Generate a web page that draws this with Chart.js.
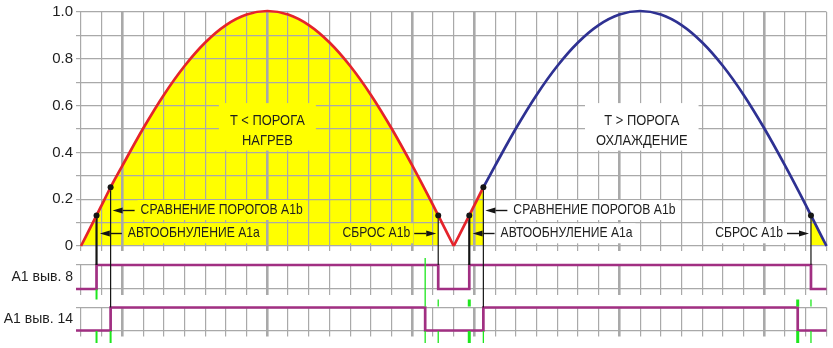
<!DOCTYPE html>
<html lang="ru">
<head>
<meta charset="utf-8">
<title>A1 — сравнение порогов</title>
<script src="https://cdn.jsdelivr.net/npm/chart.js@4.4.1/dist/chart.umd.min.js"></script>
<style>
  html, body { margin: 0; background: #fff; }
  #wrap { position: relative; width: 833px; height: 348px; }
  #wrap canvas { position: absolute; left: 0; top: 0; }
</style>
</head>
<body>
<div id="wrap">
  <canvas id="chartMain" width="833" height="348"></canvas>
  <canvas id="chartPin8" width="833" height="348"></canvas>
  <canvas id="chartPin14" width="833" height="348"></canvas>
  <canvas id="chartTop" width="833" height="348"></canvas>
</div>
<script>
// ============================================================
// Данные. Ось X — в делениях сетки (36 делений), ось Y — доля
// от максимума (0..1)
// ============================================================

// Первая дуга — нагрев (красная)
const heatX = [0, 0.75, 1, 1.43, 2, 3, 4, 5, 6, 7, 8, 9, 10, 11, 12, 13, 14, 15, 16, 17, 17.25, 18];
const heatY = [0, 0.13, 0.174, 0.25, 0.342, 0.5, 0.643, 0.766, 0.866, 0.94, 0.985, 1, 0.985, 0.94, 0.866, 0.766, 0.643, 0.5, 0.342, 0.174, 0.13, 0];
// Начало второй дуги, пока ещё нагрев (красная)
const riseX = [18, 18.75, 19, 19.43];
const riseY = [0, 0.13, 0.174, 0.25];
// Вторая дуга — охлаждение (синяя)
const coolX = [19.43, 20, 21, 22, 23, 24, 25, 26, 27, 28, 29, 30, 31, 32, 33, 34, 35, 35.25, 36];
const coolY = [0.25, 0.342, 0.5, 0.643, 0.766, 0.866, 0.94, 0.985, 1, 0.985, 0.94, 0.866, 0.766, 0.643, 0.5, 0.342, 0.174, 0.13, 0];

// Моменты событий
const autoZeroX = [0.75, 18.75];   // АВТООБНУЛЕНИЕ A1a
const compareX = [1.43, 19.43];    // СРАВНЕНИЕ ПОРОГОВ A1b
const resetX = [17.25, 35.25];     // СБРОС A1b
const pin14FallX = [16.62, 34.61]; // спад на выв. 14

// Логические уровни на выводах (0 — низкий, 1 — высокий)
const pin8X = [-0.24, 0.75, 17.25, 18.75, 35.25, 36];
const pin8Y = [0, 1, 0, 1, 0, 0];
const pin14X = [-0.24, 1.43, 16.62, 19.43, 34.61, 36];
const pin14Y = [0, 1, 0, 1, 0, 0];

// Сетка и подписи оси Y
const yGrid = [0, 0.1, 0.2, 0.3, 0.4, 0.5, 0.6, 0.7, 0.8, 0.9, 1];
const yLabels = ['0', '', '0.2', '', '0.4', '', '0.6', '', '0.8', '', '1.0'];
const pinNames = ['A1 выв. 8', 'A1 выв. 14'];

// ============================================================
// Оформление
// ============================================================
const W = 833, H = 348;
const PLOT_L = 81, PLOT_R = 826.5;
const MAIN = { top: 11, bottom: 246 };
const PIN8 = { top: 265, bottom: 289 };
const PIN14 = { top: 307.5, bottom: 330.5 };
const OVERLAY_BOTTOM = 343;
const FONT = "'Liberation Sans', Arial, sans-serif";
const TEXT = '#1e1e1e', GRID = '#a9a9a9', INK = '#151515';
const RED = '#e5232b', BLUE = '#2e3192', YELLOW = '#ffff00', WHITE = '#ffffff';
const PURPLE = '#a12f82', GREEN = '#1ee61e';
const THICK_X = [2, 9, 16, 19, 26, 33]; // утолщённые линии сетки
const NOTE_SX = 0.81, ZONE_SX = 0.86;   // сжатие шрифта по ширине
const ARROW_LEN = 22, HEAD_LEN = 10, HEAD_HALF = 3;

// Зоны зелёных меток по вертикали (пиксели)
const GREEN_ZONES = {
    under8: [289.5, 299.5],
    gap: [299.5, 306.5],
    across: [258, 306.5],
    under14: [331, 343]
};

// ============================================================
// Вспомогательные функции
// ============================================================
const toPoints = (xs, ys) => xs.map((v, i) => ({ x: v, y: ys[i] }));
const pxToMain = (px) => (MAIN.bottom - px) / (MAIN.bottom - MAIN.top);
const curveX = heatX.concat(riseX, coolX);
const curveY = heatY.concat(riseY, coolY);
const curveAt = (t) => curveY[curveX.indexOf(t)];
const part = (xs, ys, from, to) => toPoints(xs, ys).filter((p) => p.x >= from && p.x <= to);
// Левое поле занимает сама шкала Y (ширина PLOT_L), поэтому left = 0
const padding = (top, bottom) => ({ left: 0, right: W - PLOT_R, top, bottom: H - bottom });

const baseOptions = {
    responsive: false, animation: false, events: [],
    plugins: { legend: { display: false }, tooltip: { enabled: false } }
};

// Вертикальная сетка (общая для всех трёх полей)
function xGridScale(tickLength, z) {
    return {
        type: 'linear', min: 0, max: 36,
        afterBuildTicks: (s) => { s.ticks = Array.from({ length: 37 }, (_, i) => ({ value: i })); },
        afterFit: (s) => { s.height = 0; },
        ticks: { display: false },
        border: { display: false },
        grid: {
            color: GRID, tickLength, z,
            lineWidth: (c) => (c.tick && THICK_X.includes(c.tick.value) ? 2.6 : 1.2)
        }
    };
}

// ------------------------------------------------------------
// Нижний слой: жёлтая заливка + сетка поверх неё + шкала 0..1
// ------------------------------------------------------------
const yellowParts = [
    part(heatX, heatY, 0, resetX[0]),
    part(riseX, riseY, autoZeroX[1], compareX[1]),
    part(coolX, coolY, resetX[1], 36)
];

new Chart(document.getElementById('chartMain'), {
    type: 'line',
    data: {
        datasets: yellowParts.map((pts) => ({
            data: pts, fill: 'origin', backgroundColor: YELLOW, borderWidth: 0,
            pointRadius: 0, cubicInterpolationMode: 'monotone'
        }))
    },
    options: {
        ...baseOptions,
        layout: { padding: padding(MAIN.top, MAIN.bottom) },
        scales: {
            x: xGridScale(5, 1),
            y: {
                min: 0, max: 1,
                afterBuildTicks: (s) => { s.ticks = yGrid.map((v) => ({ value: v })); },
                afterFit: (s) => { s.width = PLOT_L; },
                border: { display: false },
                grid: { color: GRID, lineWidth: 1.2, tickLength: 5, z: 1 },
                ticks: {
                    padding: 3, color: TEXT, autoSkip: false,
                    font: { family: FONT, size: 15 },
                    callback: (v, i) => yLabels[i]
                }
            }
        }
    }
});

// ------------------------------------------------------------
// Поля логических сигналов A1 выв. 8 / выв. 14
// ------------------------------------------------------------
function pinChart(id, box, xs, ys, name) {
    new Chart(document.getElementById(id), {
        type: 'line',
        data: {
            datasets: [{
                data: toPoints(xs, ys), stepped: true, borderColor: PURPLE,
                borderWidth: 2.7, pointRadius: 0, clip: false
            }]
        },
        options: {
            ...baseOptions,
            layout: { padding: padding(box.top, box.bottom) },
            scales: {
                x: xGridScale(6, -1),
                y: {
                    min: 0, max: 1,
                    afterBuildTicks: (s) => { s.ticks = [0, 0.5, 1].map((v) => ({ value: v })); },
                    afterFit: (s) => { s.width = PLOT_L; },
                    border: { display: false },
                    grid: {
                        lineWidth: 1.2, tickLength: 5,
                        color: (c) => (c.tick && c.tick.value === 0.5 ? 'rgba(0,0,0,0)' : GRID)
                    },
                    ticks: {
                        padding: 3, color: TEXT, autoSkip: false,
                        font: { family: FONT, size: 14 },
                        callback: (v) => (v === 0.5 ? name : '')
                    }
                }
            }
        }
    });
}
pinChart('chartPin8', PIN8, pin8X, pin8Y, pinNames[0]);
pinChart('chartPin14', PIN14, pin14X, pin14Y, pinNames[1]);

// ------------------------------------------------------------
// Верхний слой: кривые, точки, выноски, метки и подписи
// ------------------------------------------------------------
const zoneNotes = [
    { lines: ['T < ПОРОГА', 'НАГРЕВ'], x: 9, y: 0.49, bg: YELLOW },
    { lines: ['T > ПОРОГА', 'ОХЛАЖДЕНИЕ'], x: 27.08, y: 0.49, bg: WHITE }
];
const eventNotes = [
    { text: 'СРАВНЕНИЕ ПОРОГОВ A1b', at: compareX[0], y: 0.153, side: 1, bg: YELLOW },
    { text: 'АВТООБНУЛЕНИЕ A1a', at: autoZeroX[0], y: 0.054, side: 1, bg: YELLOW, thick: true },
    { text: 'СБРОС A1b', at: resetX[0], y: 0.054, side: -1, bg: YELLOW },
    { text: 'СРАВНЕНИЕ ПОРОГОВ A1b', at: compareX[1], y: 0.153, side: 1, bg: WHITE },
    { text: 'АВТООБНУЛЕНИЕ A1a', at: autoZeroX[1], y: 0.054, side: 1, bg: WHITE, thick: true },
    { text: 'СБРОС A1b', at: resetX[1], y: 0.054, side: -1, bg: WHITE }
];

// Геометрия выноски: острие у линии, хвост, край текста
function noteGeometry(n, x) {
    const lx = x.getPixelForValue(n.at);
    const tip = lx + n.side * (n.thick ? 3.3 : 2);
    const tail = tip + n.side * ARROW_LEN;
    const edge = tail + n.side * (n.side > 0 ? 6 : 4);
    return { tip, tail, edge };
}

function drawScaledText(ctx, text, x, y, sx) {
    ctx.save();
    ctx.translate(x, y);
    ctx.scale(sx, 1);
    ctx.fillText(text, 0, 0);
    ctx.restore();
}

const notesPlugin = {
    id: 'notes',
    beforeDatasetsDraw(chart) {
        const { ctx, scales: { x, y } } = chart;
        ctx.save();
        ctx.font = `15px ${FONT}`;
        ctx.textBaseline = 'middle';

        // Подписи зон «нагрев / охлаждение»
        zoneNotes.forEach((n) => {
            const cx = x.getPixelForValue(n.x);
            const cy = y.getPixelForValue(n.y);
            const w = Math.max(...n.lines.map((t) => ctx.measureText(t).width)) * ZONE_SX;
            const lineGap = 19.5;
            const first = cy - lineGap * (n.lines.length - 1) / 2;
            const last = cy + lineGap * (n.lines.length - 1) / 2;
            ctx.fillStyle = n.bg;
            ctx.fillRect(cx - w / 2 - 11, first - 18, w + 22, last - first + 28);
            ctx.fillStyle = TEXT;
            ctx.textAlign = 'center';
            n.lines.forEach((t, i) => drawScaledText(ctx, t, cx, first + i * lineGap, ZONE_SX));
        });

        // Подписи событий
        eventNotes.forEach((n) => {
            const g = noteGeometry(n, x);
            const cy = y.getPixelForValue(n.y);
            const w = ctx.measureText(n.text).width * NOTE_SX;
            const left = n.side > 0 ? g.edge : g.edge - w;
            ctx.fillStyle = n.bg;
            ctx.fillRect(left - 3, cy - 10, w + 6, 20);
            ctx.fillStyle = TEXT;
            ctx.textAlign = n.side > 0 ? 'left' : 'right';
            drawScaledText(ctx, n.text, g.edge, cy, NOTE_SX);
        });
        ctx.restore();
    },
    afterDatasetsDraw(chart) {
        const { ctx, scales: { x, y } } = chart;
        ctx.save();
        ctx.strokeStyle = INK;
        ctx.fillStyle = INK;
        ctx.lineWidth = 1.4;
        eventNotes.forEach((n) => {
            const g = noteGeometry(n, x);
            const cy = Math.round(y.getPixelForValue(n.y)) + 0.5;
            const dir = Math.sign(g.tip - g.tail);
            ctx.beginPath();
            ctx.moveTo(g.tail, cy);
            ctx.lineTo(g.tip - dir * HEAD_LEN, cy);
            ctx.stroke();
            ctx.beginPath();
            ctx.moveTo(g.tip, cy);
            ctx.lineTo(g.tip - dir * HEAD_LEN, cy - HEAD_HALF);
            ctx.lineTo(g.tip - dir * HEAD_LEN, cy + HEAD_HALF);
            ctx.closePath();
            ctx.fill();
        });
        ctx.restore();
    }
};

const lineSet = (data, color, width, extra) => ({
    data, borderColor: color, borderWidth: width, pointRadius: 0, fill: false, clip: false, ...extra
});

// Чёрные выноски от точек кривой до фронтов на выводах
const connectors = [
    ...autoZeroX.map((t) => ({ t, to: PIN8.top, w: 2.2 })),
    ...resetX.map((t) => ({ t, to: PIN8.top, w: 1.2 })),
    ...compareX.map((t) => ({ t, to: PIN14.top, w: 1.2 }))
];

// Зелёные метки: момент, зона, толщина
const greenMarks = [
    [autoZeroX[0], 'under8', 2], [autoZeroX[0], 'under14', 2], [compareX[0], 'under14', 2],
    [pin14FallX[0], 'across', 1.3], [pin14FallX[0], 'under14', 1.3],
    [resetX[0], 'gap', 1.3], [resetX[0], 'under14', 1.3],
    [autoZeroX[1], 'gap', 3], [autoZeroX[1], 'under14', 3],
    [compareX[1], 'under14', 1.3],
    [pin14FallX[1], 'gap', 3], [pin14FallX[1], 'under14', 3],
    [resetX[1], 'gap', 1.3], [resetX[1], 'under14', 1.3]
];

const markerPts = [...autoZeroX, ...compareX, ...resetX].map((t) => ({ x: t, y: curveAt(t) }));

new Chart(document.getElementById('chartTop'), {
    type: 'line',
    data: {
        datasets: [
            { data: markerPts, showLine: false, pointRadius: 3, pointBackgroundColor: INK, pointBorderWidth: 0, clip: false },
            lineSet(toPoints(heatX, heatY), RED, 2.7, { cubicInterpolationMode: 'monotone' }),
            lineSet(toPoints(riseX, riseY), RED, 2.7, { cubicInterpolationMode: 'monotone' }),
            lineSet(toPoints(coolX, coolY), BLUE, 2.7, { cubicInterpolationMode: 'monotone' }),
            ...connectors.map((c) => lineSet([{ x: c.t, y: curveAt(c.t) }, { x: c.t, y: pxToMain(c.to) }], INK, c.w)),
            ...greenMarks.map(([t, zone, w]) => lineSet(
                GREEN_ZONES[zone].map((px) => ({ x: t, y: pxToMain(px) })), GREEN, w))
        ]
    },
    options: {
        ...baseOptions,
        layout: { padding: { ...padding(MAIN.top, OVERLAY_BOTTOM), left: PLOT_L } },
        scales: {
            x: { type: 'linear', min: 0, max: 36, display: false },
            y: { min: pxToMain(OVERLAY_BOTTOM), max: 1, display: false }
        }
    },
    plugins: [notesPlugin]
});
</script>
</body>
</html>
